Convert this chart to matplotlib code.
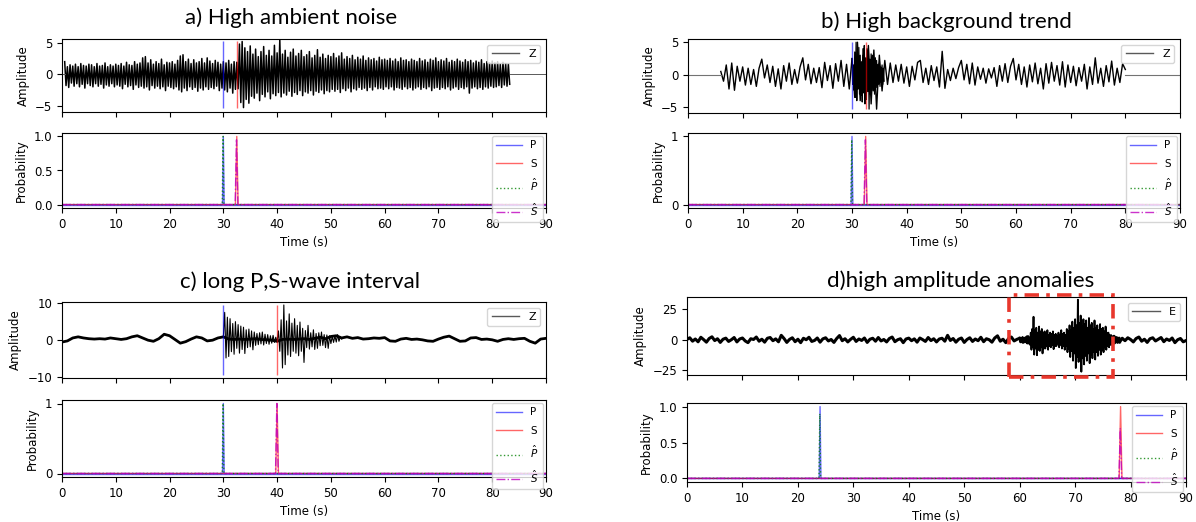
import matplotlib.pyplot as plt
from matplotlib.patches import Rectangle
import numpy as np

# ---- figure geometry (pixels of the 1196x522 output) ----
W, H = 1196, 522

# ---- a) high ambient noise: envelope of the dense trace, 0.5 s steps from 0.5 s ----
A_START, A_STEP = 0.5, 0.5
A_HI = [2.0, 1.2, 1.5, 1.3, 1.6, 1.2, 1.7, 1.4, 1.3, 1.6,
        1.5, 1.2, 1.7, 1.3, 1.4, 1.8, 1.2, 1.5, 1.3, 1.6,
        1.4, 1.7, 1.3, 1.9, 1.5, 1.4, 2.0, 1.6, 1.8, 2.6,
        2.8, 1.8, 2.3, 1.6, 2.0, 1.7, 2.4, 1.5, 1.9, 1.8,
        2.0, 1.6, 2.2, 2.9, 3.1, 2.0, 2.4, 1.7, 2.3, 1.8,
        2.0, 2.5, 1.8, 2.6, 2.1, 1.7, 2.2, 1.9, 1.6, 2.0,
        1.8, 2.2, 1.6, 2.0, 1.9, 4.8, 5.2, 4.2, 3.6, 4.5,
        3.2, 4.0, 2.8, 3.6, 4.4, 3.0, 3.8, 2.9, 4.6, 3.4,
        5.5, 3.2, 3.8, 2.7, 3.5, 4.0, 2.9, 3.3, 3.8, 2.8,
        3.1, 3.6, 2.6, 3.0, 3.9, 2.7, 3.2, 2.5, 3.0, 2.8,
        3.3, 2.6, 2.9, 3.4, 2.4, 2.8, 2.5, 3.0, 2.3, 2.7,
        2.4, 2.9, 2.2, 2.6, 2.3, 2.5, 2.1, 2.7, 2.3, 2.4,
        2.2, 2.5, 2.1, 2.4, 2.0, 2.6, 2.2, 2.3, 2.0, 2.4,
        2.2, 2.0, 2.5, 2.1, 2.3, 1.9, 2.4, 2.2, 2.6, 2.0,
        2.3, 2.1, 2.5, 1.9, 2.2, 2.0, 2.4, 2.1, 1.9, 2.3,
        2.0, 2.2, 1.8, 2.1, 1.9, 2.3, 1.7, 2.0, 1.8, 2.1,
        1.8, 2.0, 1.6, 1.9, 1.7, 1.6]
A_LO = [-1.8, -2.1, -1.4, -1.9, -1.5, -2.0, -1.6, -2.2, -1.5, -1.8,
        -2.0, -1.5, -1.9, -1.6, -2.2, -1.7, -1.9, -1.5, -2.0, -1.7,
        -1.9, -2.3, -1.6, -2.0, -1.8, -2.4, -1.7, -2.1, -1.9, -2.2,
        -2.0, -2.5, -1.8, -2.2, -1.9, -2.3, -2.0, -2.6, -1.9, -2.1,
        -2.3, -2.0, -2.5, -2.8, -2.2, -2.6, -2.0, -2.4, -2.1, -2.7,
        -2.2, -2.5, -2.0, -2.4, -2.1, -2.3, -1.9, -2.6, -2.2, -2.5,
        -2.8, -2.2, -3.0, -2.4, -2.3, -4.5, -5.3, -4.0, -4.6, -3.5,
        -3.8, -3.0, -4.2, -3.2, -3.6, -2.8, -3.9, -3.1, -3.4, -2.9,
        -3.6, -3.0, -3.3, -2.7, -3.5, -2.9, -3.2, -2.6, -3.4, -2.8,
        -3.0, -2.6, -3.3, -2.7, -2.9, -2.5, -3.1, -2.6, -2.8, -2.4,
        -2.7, -2.4, -2.9, -2.3, -2.6, -2.2, -2.8, -2.3, -2.5, -2.1,
        -2.4, -2.2, -2.6, -2.1, -2.5, -2.0, -2.3, -2.2, -2.4, -2.0,
        -2.3, -2.0, -2.5, -2.1, -2.2, -2.4, -2.0, -2.3, -2.1, -2.5,
        -2.2, -2.0, -2.4, -2.1, -2.3, -2.0, -2.6, -2.2, -2.1, -2.4,
        -2.1, -2.3, -2.0, -2.5, -2.2, -2.0, -2.4, -2.1, -2.3, -2.0,
        -3.0, -2.2, -2.0, -2.3, -2.1, -2.4, -2.0, -2.2, -1.9, -2.1,
        -2.0, -1.8, -2.1, -1.7, -1.9, -1.6]

# ---- b) high background trend: successive extremes, 0.5 s steps from 6 s ----
B_START, B_STEP = 6.0, 0.5
B_VALS = [0.5, -1.0, 1.5, -2.2, 1.8, -2.4, 1.3, -1.0, 1.2, -1.6,
          1.0, -1.5, 0.8, -1.8, 1.0, 2.4, -0.5, 1.5, -1.2, 1.3,
          -1.8, 0.9, -2.2, 1.4, -1.0, 1.8, -1.5, 0.8, -1.3, 1.2,
          2.6, -0.8, 1.6, -1.4, 1.0, -1.2, 1.1, -2.0, 1.9, -0.9,
          1.4, -2.1, 1.7, -1.0, 2.2, -1.8, 1.6, -2.2, 2.5,
          -3.5, 5.0, -4.0, 3.0, -3.2, 4.5, -4.5, 3.8, -5.3, 3.0,
          -2.5, 2.2, -1.5, 1.8, -1.2, 1.5, -1.0, 1.6, -1.3, 1.2,
          -1.8, 1.3, -0.8, 1.9, 2.2, -1.2, 1.0, -1.5, 1.4, -0.9,
          1.2, -1.9, 3.6, -2.1, 0.8, -0.9, 1.0, -0.6, 1.1, 2.2,
          -0.8, 1.6, -1.4, 1.8, -1.6, 1.2, -0.7, 1.0, -1.3, 0.9,
          -0.5, 1.1, -1.8, 1.4, -1.0, 1.7, -1.2, 1.3, 2.5, -0.8,
          1.6, -1.5, 1.2, -1.9, 1.5, -1.1, 1.8, -1.4, 1.0, -2.2,
          1.7, -1.3, 1.9, -1.0, 1.4, -1.6, 2.0, -1.9, 1.5, -1.2,
          1.3, -1.7, 1.1, -1.0, 1.6, -2.2, 1.2, -1.5, 2.6, -1.3,
          1.0, -1.8, 1.4, -1.1, 2.1, -1.6, 1.0, -1.2, 1.7, 0.8]
B_BURST_START, B_BURST_STEP = 30.0, 0.25
B_BURST_HI = [2.5, 1.5, 3.5, 5.0, 2.8, 4.2, 3.0, 2.0, 4.0, 4.5, 2.6, 4.0,
              3.8, 2.4, 3.2, 3.0, 2.2, 2.6, 2.2, 1.6, 1.8, 1.2, 1.5, 1.0]
B_BURST_LO = [-1.5, -2.4, -3.5, -4.0, -2.2, -3.0, -3.2, -4.2, -2.8, -4.5, -3.8, -2.6,
              -5.3, -3.0, -2.4, -2.5, -3.0, -2.0, -2.0, -1.5, -1.8, -1.2, -1.5, -1.0]

# ---- c) long P,S-wave interval ----
C_BASE_STEP = 1.0  # background, 0..90 s
C_BASE = [-0.5, -0.2, 0.6, 0.9, 0.6, 0.4, 0.3, 0.4, 0.3, 0.6,
          0.4, 0.2, 0.4, 0.9, 1.2, 0.6, 0.0, -0.3, 0.4, 1.6,
          1.2, 0.2, -0.8, -0.4, 0.3, 0.9, 0.6, -0.2, 0.0, 0.6,
          0.9, 0.3, 0.2, 0.3, 0.2, 0.3, 0.4, 0.2, 0.1, 0.0,
          -0.3, 0.2, 0.3, 0.2, 0.3, 0.4, 0.2, 0.5, 0.8, 0.4,
          1.0, 1.2, 0.6, 0.9, 0.5, 0.7, 0.3, 0.4, 0.6, 0.5,
          0.7, -0.2, -0.3, 0.3, 0.5, 0.2, 0.3, 0.1, -0.2, -0.3,
          0.3, 0.8, 1.1, 0.4, -0.3, -0.2, 0.6, 0.7, 0.2, 0.3,
          0.1, -0.3, 0.2, 0.4, 0.2, 0.4, 0.5, -0.3, -0.8, 0.3, 0.5]
C_EV_START, C_EV_STEP = 30.0, 0.25
C_EVENT = [0.8,
           7.5, -4.8, 6.2, -4.4, 5.8, -3.1, 4.5, -3.8, 5.0, -2.2,
           4.2, -3.5, 3.8, -2.5, 3.5, -3.6, 2.8, -2.0, 3.0, -1.8,
           2.5, -2.6, 2.2, -1.4, 1.8, -1.2, 2.0, -1.0, 2.2, -1.3,
           1.6, -0.9, 1.5, -1.1, 1.2, -0.8, 1.3, -0.6, 0.8, -0.5,
           2.5, -3.0, 5.5, -7.5, 9.5, -6.6, 5.2, -4.0, 7.1, -4.4,
           4.6, -3.0, 5.8, -3.5, 4.0, -4.2, 4.9, -3.0, 3.2, -6.0,
           2.6, -2.0, 4.0, -2.4, 2.0, -1.8, 2.8, -2.5, 1.8, -2.2,
           2.0, -1.5, 2.2, -1.4, 1.5, -2.0, 1.4, -2.2, 1.2, -0.9,
           1.0, -0.6, 1.2, -0.5, 1.5, -0.3, 0.9, 0.3]

# ---- d) high amplitude anomalies ----
D_BASE_STEP = 0.5  # background, 0..90 s
D_BASE = [0.5, 1.8, -1.0, 0.8, -1.5, 2.2, 0.3, -1.8, 1.2, 2.6,
          -0.5, 1.0, -2.0, 0.6, 1.5, -1.2, 0.2, 2.0, -1.6, 0.8,
          1.6, -0.8, -2.2, 1.0, 0.4, 2.4, -1.0, 0.6, -1.8, 1.4,
          2.0, -0.6, 0.9, -1.5, 3.8, 1.2, -2.0, 0.5, 1.8, -1.4,
          0.6, -2.2, 1.4, 0.2, 2.2, -1.2, -0.4, 1.6, -1.8, 0.9,
          1.8, -0.8, 0.4, -2.0, 1.2, 3.6, -0.6, 1.0, -1.6, 0.5,
          2.2, -1.2, 0.8, -0.4, 1.6, -2.0, 0.6, 1.4, -1.0, 2.0,
          -0.8, 0.4, -1.6, 1.2, 2.4, -1.4, 0.2, 1.0, -2.2, 0.8,
          1.5, -0.6, 0.9, -1.8, 1.6, 0.3, -1.2, 2.0, -0.5, 1.0,
          -1.6, 0.8, 1.4, -1.0, 3.8, -0.4, 1.2, -1.8, 0.6, 1.6,
          -2.0, 0.4, 1.8, -1.2, 0.8, -0.6, 2.2, -1.4, 1.0, 0.2,
          -1.8, 1.6, 3.4, -1.0, 0.6, -2.2, 1.2, 2.4, -0.8, 0.5,
          1.4, -1.6, 0.8, 2.6, -1.2, 0.4, 1.8, -2.0, 0.9, 1.2,
          -1.0, 0.6, 1.6, -1.4, 0.8, 2.0, -0.8, 1.2, -1.6, 0.4,
          1.5, -1.2, 0.8, 2.0, -1.6, 0.4, 1.2, -2.0, 1.6, 0.6,
          -1.4, 2.2, 0.8, -1.0, 3.0, 0.2, -1.8, 1.4, -0.6, 1.8,
          0.4, -1.6, 1.2, 2.4, -1.0, 0.6, -2.0, 1.0, 1.8, -0.8,
          0.6, 2.0, -1.4, 0.8, -0.4, 1.6, -2.2, 0.2, 1.2, -1.5,
          -0.5]
D_EV_START, D_EV_STEP = 60.0, 0.25
D_EV_HI = [2, 1.5, 2.5, 2, 2, 3, 3, 2, 6, 9, 19, 8, 10, 6, 11, 7, 9, 6, 7, 5,
           8, 4, 6, 5, 7, 4, 5, 3, 6, 4, 8, 5, 6, 4, 9, 7, 12, 8, 15, 10,
           17, 12, 33, 14, 20, 11, 17, 13, 16, 10, 18, 12, 14, 9, 16, 10, 12, 8, 13, 9,
           10, 7, 11, 6, 6, 4, 4, 3, 3, 2, 2.5, 2, 2]
D_EV_LO = [-2, -1.5, -2.5, -2, -2, -3, -3, -4, -8, -6, -12, -7, -12.5, -8, -9, -6, -11, -7, -7, -5,
           -8, -5, -6, -4, -7.5, -5, -5, -3, -6, -4, -7, -5, -8, -5, -10, -7, -14, -9, -17, -11,
           -23, -14, -18, -12, -26, -15, -20, -13, -17, -11, -19, -12, -15, -10, -16, -10, -13, -8, -12, -8,
           -10, -6, -8, -5, -6, -4, -4, -3, -3, -2, -2.5, -2, -2]
D_BOX_T = [58.1, 76.9]
D_BOX_AMP = [-30.3, 36.9]

# ---- picks: reference (P, S) and predicted (P^, S^) ----
TITLES = ['a) High ambient noise', 'b) High background trend',
          'c) long P,S-wave interval', 'd)high amplitude anomalies']
COMPONENTS = ['Z', 'Z', 'Z', 'E']
P_PICK = [30.0, 30.0, 30.0, 24.0]
S_PICK = [32.5, 32.5, 40.0, 78.2]
P_PRED = [29.95, 29.95, 29.95, 23.95]
S_PRED = [32.45, 32.45, 39.95, 78.15]
P_PRED_H = [1.0, 0.95, 1.0, 0.9]
S_PRED_H = [0.95, 0.95, 1.0, 0.7]
P_LINE = [(-5.3, 5.3), (-5.3, 5.0), (-9.5, 9.5), None]
S_LINE = [(-5.3, 5.3), (-5.3, 5.0), (-9.5, 9.5), None]

AMP_YLIM = [(-6.0, 5.6), (-5.9, 5.5), (-10.2, 10.3), (-28.7, 35.2)]
AMP_YTICKS = [[-5, 0, 5], [-5, 0, 5], [-10, 0, 10], [-25, 0, 25]]
PROB_YTICKS = [[0.0, 0.5, 1.0], [0, 1], [0, 1], [0.0, 0.5, 1.0]]
PROB_YLABELS = [['0.0', '0.5', '1.0'], ['0', '1'], ['0', '1'], ['0.0', '0.5', '1.0']]

# axes boxes in pixels: (left, right, amp top, amp bottom, prob top, prob bottom)
BOXES = [(62, 546, 39, 112, 133, 208),
         (688, 1180, 39, 113, 133, 208),
         (62, 546, 302, 378, 400, 477),
         (687, 1186, 297, 375, 403, 482)]
TITLE_POS = [(291, 24), (946, 28), (300, 288), (961, 287)]

plt.rcParams['font.family'] = ['DejaVu Sans']
FS = 8.5

fig = plt.figure(figsize=(W / 100, H / 100), dpi=100)


def px_axes(left, right, top, bottom):
    return fig.add_axes([left / W, 1 - bottom / H, (right - left) / W, (bottom - top) / H])


def peak(ax, t, h, color, ls, alpha, hw=0.15):
    ax.plot([0, t - hw, t, t + hw, 90], [0, 0, h, 0, 0], color=color, ls=ls, lw=1.0, alpha=alpha)


def zigzag(t0, step, hi, lo):
    # alternate the read upper/lower extremes into one trace
    t = t0 + step * np.arange(len(hi))
    x = np.column_stack([t, t + step / 2]).ravel()
    y = np.column_stack([hi, lo]).ravel()
    return x, y


amp_axes, prob_axes = [], []
for k, (l, r, at, ab, pt, pb) in enumerate(BOXES):
    amp_axes.append(px_axes(l, r, at, ab))
    prob_axes.append(px_axes(l, r, pt, pb))

# a) dense noisy trace
ax = amp_axes[0]
xa, ya = zigzag(A_START, A_STEP, A_HI, A_LO)
ax.plot(xa, ya, color='k', lw=1.1)
ax.plot([0, xa[0]], [0, 0], color='0.35', lw=0.7)
ax.plot([xa[-1], 90], [0, 0], color='0.35', lw=0.7)
ax.plot([], [], color='0.35', lw=1.0, label='Z')

# b) oscillating trace with short burst
ax = amp_axes[1]
tb = B_START + B_STEP * np.arange(len(B_VALS))
ax.plot(tb, B_VALS, color='k', lw=1.0)
xb, yb = zigzag(B_BURST_START, B_BURST_STEP, B_BURST_HI, B_BURST_LO)
ax.plot(xb, yb, color='k', lw=0.9)
ax.plot([0, tb[0]], [0, 0], color='0.45', lw=0.8)
ax.plot([tb[-1], 90], [0, 0], color='0.45', lw=0.8)
ax.plot([], [], color='0.35', lw=1.0, label='Z')

# c) quiet background and two wave trains
ax = amp_axes[2]
tc = C_BASE_STEP * np.arange(len(C_BASE))
ax.plot(tc, C_BASE, color='k', lw=2.0, solid_joinstyle='round')
tce = C_EV_START + C_EV_STEP * np.arange(len(C_EVENT))
ax.plot(tce, C_EVENT, color='k', lw=0.8)
ax.plot([], [], color='0.35', lw=1.0, label='Z')

# d) background with a high-amplitude anomaly
ax = amp_axes[3]
td = D_BASE_STEP * np.arange(len(D_BASE))
ax.plot(td, D_BASE, color='k', lw=2.2)
xd, yd = zigzag(D_EV_START, D_EV_STEP, D_EV_HI, D_EV_LO)
ax.plot(xd, yd, color='k', lw=1.3)
ax.plot([], [], color='0.35', lw=1.0, label='E')
ax.add_patch(Rectangle((D_BOX_T[0], D_BOX_AMP[0]), D_BOX_T[1] - D_BOX_T[0],
                       D_BOX_AMP[1] - D_BOX_AMP[0], fill=False, ec='#e8372c',
                       lw=2.6, ls=(0, (4, 2, 1, 2)), clip_on=False, zorder=5))

for k in range(4):
    ax = amp_axes[k]
    if P_LINE[k] is not None:
        ax.vlines(P_PICK[k], *P_LINE[k], color='b', lw=1.0, alpha=0.6, zorder=3)
        ax.vlines(S_PICK[k], *S_LINE[k], color='r', lw=1.0, alpha=0.6, zorder=3)
    ax.set_xlim(0, 90)
    ax.set_ylim(*AMP_YLIM[k])
    ax.set_yticks(AMP_YTICKS[k])
    ax.set_xticks(range(0, 91, 10))
    ax.set_xticklabels([])
    ax.tick_params(labelsize=FS)
    ax.set_ylabel('Amplitude', fontsize=FS)
    ax.legend(loc='upper right', fontsize=FS - 0.5, handlelength=2.5)

    ax = prob_axes[k]
    ax.plot([0, 90], [0, 0], color='b', lw=1.0, alpha=0.6)
    peak(ax, P_PICK[k], 1.0, 'b', '-', 0.6)
    peak(ax, S_PICK[k], 1.0, 'r', '-', 0.6, hw=0.25)
    peak(ax, P_PRED[k], P_PRED_H[k], 'g', ':', 0.8)
    peak(ax, S_PRED[k], S_PRED_H[k], 'm', '-.', 0.8, hw=0.25)
    ax.plot([], [], color='b', lw=1.0, alpha=0.6, label='P')
    ax.plot([], [], color='r', lw=1.0, alpha=0.6, label='S')
    ax.plot([], [], color='g', ls=':', lw=1.0, alpha=0.8, label=r'$\hat{P}$')
    ax.plot([], [], color='m', ls='-.', lw=1.0, alpha=0.8, label=r'$\hat{S}$')
    ax.set_xlim(0, 90)
    ax.set_ylim(-0.05, 1.05)
    ax.set_yticks(PROB_YTICKS[k])
    ax.set_yticklabels(PROB_YLABELS[k])
    ax.set_xticks(range(0, 91, 10))
    ax.tick_params(labelsize=FS)
    ax.set_ylabel('Probability', fontsize=FS)
    ax.set_xlabel('Time (s)', fontsize=FS)
    ax.legend(loc='upper right', fontsize=FS - 1, handlelength=2.5,
              labelspacing=0.8, borderaxespad=0.3)

    x, y = TITLE_POS[k]
    fig.text(x / W, 1 - y / H, TITLES[k], ha='center', va='baseline',
             fontsize=16, family=['Lato', 'DejaVu Sans'])

fig.savefig('out.png', dpi=100)
